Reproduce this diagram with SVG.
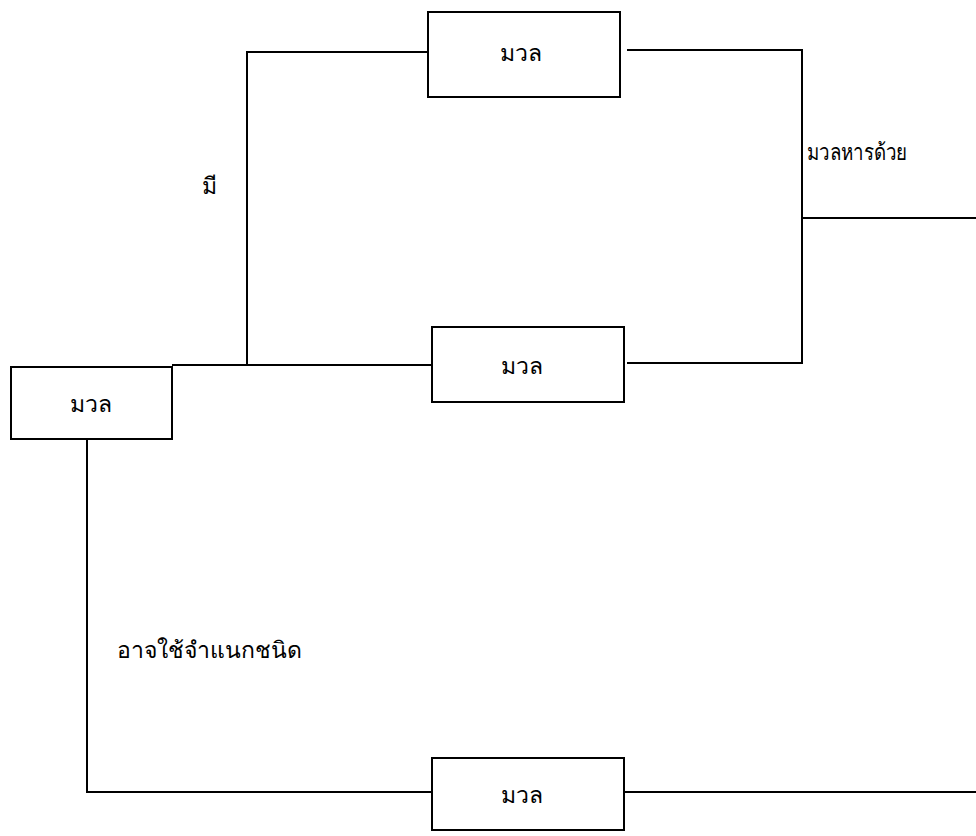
<svg xmlns="http://www.w3.org/2000/svg" width="976" height="836" viewBox="0 0 976 836">
<style>
.box{fill:#fff;stroke:#000;stroke-width:2}
.ln{fill:none;stroke:#000;stroke-width:2}
text{font-family:"Noto Sans","DejaVu Sans",sans-serif;font-size:23px;font-weight:500;fill:#000}
.c{text-anchor:middle}
</style>
<rect width="976" height="836" fill="#fff"/>
<g id="connectors">
<polyline class="ln" points="428,52 247,52 247,365 432,365"/>
<line class="ln" x1="172" y1="365" x2="247" y2="365"/>
<polyline class="ln" points="627,50 802,50 802,363 627,363"/>
<line class="ln" x1="802" y1="218" x2="976" y2="218"/>
<polyline class="ln" points="87,439 87,792 432,792"/>
<line class="ln" x1="624" y1="792" x2="976" y2="792"/>
</g>
<g id="label-mee"><text x="209" y="194" class="c">มี</text></g>
<g id="label-div"><text x="807" y="160" textLength="100" lengthAdjust="spacingAndGlyphs">มวลหารด้วย</text></g>
<g id="label-class"><text x="117" y="658" textLength="185" lengthAdjust="spacingAndGlyphs">อาจใช้จำแนกชนิด</text></g>
<g id="node-top"><rect class="box" x="428" y="12" width="192" height="85"/><text x="521" y="61" class="c">มวล</text></g>
<g id="node-mid"><rect class="box" x="432" y="327" width="192" height="75"/><text x="522" y="374" class="c">มวล</text></g>
<g id="node-left"><rect class="box" x="11" y="367" width="161" height="72"/><text x="91" y="412" class="c">มวล</text></g>
<g id="node-bot"><rect class="box" x="432" y="758" width="192" height="72"/><text x="522" y="803" class="c">มวล</text></g>
</svg>
